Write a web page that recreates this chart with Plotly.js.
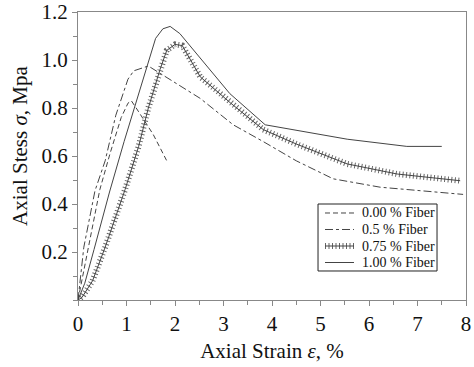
<!DOCTYPE html>
<html>
<head>
<meta charset="utf-8">
<script src="https://cdn.plot.ly/plotly-3.0.1.min.js"></script>
<style>html,body{margin:0;padding:0;background:#fff;}#chart{width:474px;height:367px;}</style>
</head>
<body>
<div id="chart"></div>
<script>
// 0.00 % Fiber
const x0 = [0, 0.08, 0.22, 0.45, 0.66, 0.89, 1.03, 1.10, 1.20, 1.55, 1.83];
const y0 = [0, 0.08, 0.22, 0.46, 0.61, 0.76, 0.82, 0.83, 0.80, 0.69, 0.58];
// 0.5 % Fiber
const x05 = [0, 0.04, 0.12, 0.35, 0.56, 0.78, 1.03, 1.15, 1.28, 1.45, 2.52, 3.2, 3.82, 4.5, 5.26, 6.23, 7.94];
const y05 = [0, 0.08, 0.22, 0.455, 0.58, 0.77, 0.92, 0.955, 0.965, 0.975, 0.84, 0.73, 0.66, 0.58, 0.505, 0.47, 0.44];
// 0.75 % Fiber
const x075 = [0, 0.08, 0.3, 0.56, 0.97, 1.25, 1.45, 1.69, 1.83, 2.0, 2.15, 2.52, 3.15, 3.82, 4.5, 5.55, 6.58, 7.88];
const y075 = [0, 0.01, 0.08, 0.22, 0.46, 0.64, 0.80, 0.96, 1.04, 1.065, 1.06, 0.93, 0.82, 0.71, 0.65, 0.567, 0.525, 0.497];
// 1.00 % Fiber
const x1 = [0, 0.14, 0.33, 0.65, 0.95, 1.22, 1.45, 1.6, 1.75, 1.9, 2.1, 3.13, 3.86, 4.3, 5.55, 6.78, 7.5];
const y1 = [0, 0.07, 0.21, 0.45, 0.66, 0.84, 1.0, 1.09, 1.13, 1.14, 1.11, 0.86, 0.73, 0.715, 0.67, 0.64, 0.64];

const names = ['0.00 % Fiber', '0.5 % Fiber', '0.75 % Fiber', '1.00 % Fiber'];
const yTicks = [0.2, 0.4, 0.6, 0.8, 1.0, 1.2];
const yTickText = ['0.2', '0.4', '0.6', '0.8', '1.0', '1.2'];
const xTicks = [0, 1, 2, 3, 4, 5, 6, 7, 8];
const xTitle = 'Axial Strain <i>ε</i>, %';
const yTitle = 'Axial Stess <i>σ</i>, Mpa';

const lc = '#444';
const styles = [
  {color: lc, width: 1, dash: '5px,3px'},
  {color: lc, width: 1, dash: '8px,3px,3px,3px'},
  {color: '#666', width: 6, dash: '1px,2.5px'},
  {color: lc, width: 1, dash: 'solid'}
];
const xs = [x0, x05, x075, x1];
const ys = [y0, y05, y075, y1];

const traces = [];
xs.forEach((xv, i) => {
  traces.push({x: xv, y: ys[i], name: names[i], mode: 'lines', line: styles[i], showlegend: false});
  if (i === 2) traces.push({x: xv, y: ys[i], name: names[i], mode: 'lines', line: {color: lc, width: 1}, showlegend: false});
});

const fam = '"Liberation Serif", "Times New Roman", Times, serif';
const fnt = {family: fam, color: '#111'};

// legend drawn in paper coordinates
const lgX0 = 0.6186, lgX1 = 0.9253, lgY0 = 0.1007, lgY1 = 0.3333;
const symX0 = 0.6366, symX1 = 0.7113, txtX = 0.7268;
const rowY = [0.3021, 0.2448, 0.1875, 0.1302];
const shapes = [{type: 'rect', xref: 'paper', yref: 'paper', x0: lgX0, x1: lgX1, y0: lgY0, y1: lgY1,
  line: {color: '#222', width: 1}, fillcolor: '#fff', layer: 'above'}];
const annotations = [];
names.forEach((n, i) => {
  shapes.push({type: 'line', xref: 'paper', yref: 'paper', x0: symX0, x1: symX1, y0: rowY[i], y1: rowY[i], line: styles[i], layer: 'above'});
  if (i === 2) shapes.push({type: 'line', xref: 'paper', yref: 'paper', x0: symX0, x1: symX1, y0: rowY[i], y1: rowY[i], line: {color: lc, width: 1}, layer: 'above'});
  annotations.push({xref: 'paper', yref: 'paper', x: txtX, y: rowY[i], xanchor: 'left', yanchor: 'middle',
    text: n, showarrow: false, font: Object.assign({size: 14}, fnt)});
});
// y-axis title (placed slightly above the plot middle, as in the reference)
annotations.push({xref: 'paper', yref: 'paper', x: -0.1495, y: 0.535, xanchor: 'center', yanchor: 'middle',
  textangle: -90, text: yTitle, showarrow: false, font: Object.assign({size: 21}, fnt)});

const layout = {
  width: 474, height: 367,
  margin: {l: 78, r: 8, t: 12, b: 67},
  paper_bgcolor: '#fff', plot_bgcolor: '#fff',
  font: Object.assign({size: 20}, fnt),
  showlegend: false,
  shapes: shapes,
  annotations: annotations,
  xaxis: {
    range: [0, 8], tickvals: xTicks, ticktext: xTicks.map(String),
    showline: true, linecolor: '#888', linewidth: 1, mirror: true,
    ticks: 'outside', ticklen: 5, tickcolor: '#888',
    minor: {dtick: 0.5, ticks: 'outside', ticklen: 4, tickcolor: '#888'},
    showgrid: false, zeroline: false, ticklabeloverflow: 'allow',
    tickfont: Object.assign({size: 21}, fnt),
    title: {text: xTitle, font: Object.assign({size: 21}, fnt), standoff: 8}
  },
  yaxis: {
    range: [0, 1.2], tickvals: yTicks, ticktext: yTickText,
    showline: true, linecolor: '#888', linewidth: 1, mirror: true,
    ticks: 'outside', ticklen: 5, tickcolor: '#888',
    minor: {dtick: 0.1, ticks: 'outside', ticklen: 4, tickcolor: '#888'},
    showgrid: false, zeroline: false, ticklabeloverflow: 'allow',
    tickfont: Object.assign({size: 21}, fnt)
  }
};
Plotly.newPlot('chart', traces, layout, {staticPlot: true, displayModeBar: false});
</script>
</body>
</html>
